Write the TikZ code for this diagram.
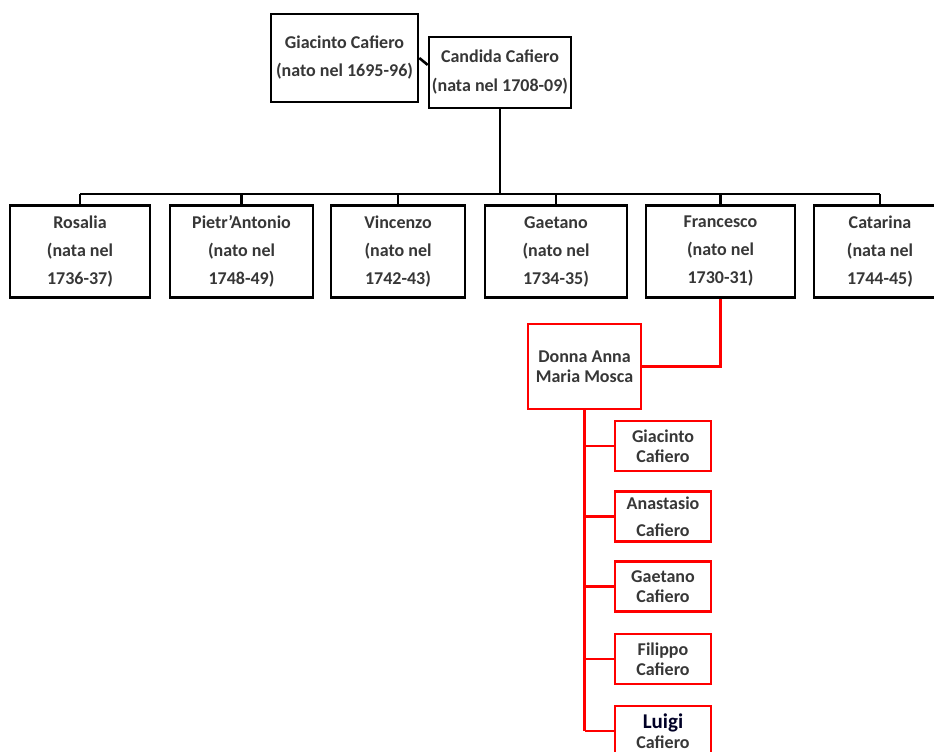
\documentclass[tikz,border=0pt]{standalone}
\usepackage{fontspec}
\setmainfont{Carlito}
\usetikzlibrary{calc}

\definecolor{txt}{RGB}{55,55,55}
\tikzset{
 box/.style={draw=black, line width=2.6pt, fill=white, text=txt, align=center, inner sep=0pt},
 kid/.style={box, minimum height=92, font=\bfseries\fontsize{18}{28}\selectfont},
 redbox/.style={box, draw=red, minimum width=96, minimum height=50, font=\bfseries\fontsize{18}{20}\selectfont},
 link/.style={black, line width=2.6pt},
 redlink/.style={red, line width=2.6pt}
}

\begin{document}
\begin{tikzpicture}[x=1pt, y=-1pt]
\useasboundingbox (0,0) rectangle (934,752);
\clip (0,0) rectangle (934,752);
% parents
\node[box, minimum width=147, minimum height=88, font=\bfseries\fontsize{18}{28}\selectfont] (giacinto) at (344.5,58) {Giacinto Cafiero\\(nato nel 1695-96)};
\node[box, minimum width=142, minimum height=71, font=\bfseries\fontsize{18}{29}\selectfont] (candida) at (500,72.5) {Candida Cafiero\\(nata nel 1708-09)};
\draw[link] (giacinto.east) -- (candida.174);
% children
\coordinate (bus) at (500,194);
\foreach \n/\x/\w/\t in {
 rosalia/80/140/{Rosalia\\(nata nel\\1736-37)},
 pietro/241.5/143/{Pietr’Antonio\\(nato nel\\1748-49)},
 vincenzo/398/134/{Vincenzo\\(nato nel\\1742-43)},
 gaetano/556/142/{Gaetano\\(nato nel\\1734-35)},
 francesco/720.5/149/{Francesco\\(nato nel\\1730-31)},
 catarina/880/132/{Catarina\\(nata nel\\1744-45)}} {
 \node[kid, minimum width=\w] (\n) at (\x,251.5) {\t};
 \draw[link] (\n.north) -- (\n.north |- bus);
}
\draw[link] (rosalia.north |- bus) -- (catarina.north |- bus);
\draw[link] (candida.south) -- (candida.south |- bus);
% Francesco's family
\node[box, draw=red, minimum width=113, minimum height=85, font=\bfseries\fontsize{18}{20}\selectfont] (donna) at (584.5,366.5) {Donna Anna\\Maria Mosca};
\draw[redlink] (francesco.south) |- (donna.east);
\foreach \n/\y/\t in {
 giacintoB/446/{Giacinto\\Cafiero},
 anastasio/516.5/{Anastasio\\[7pt]Cafiero},
 gaetanoB/586.5/{Gaetano\\Cafiero},
 filippo/659/{Filippo\\Cafiero},
 luigi/731/{{\fontsize{21}{21}\selectfont\color{black!85!blue}Luigi}\\Cafiero}} {
 \node[redbox] (\n) at (663,\y) {\t};
 \draw[redlink] (donna.south |- \n.west) -- (\n.west);
}
\draw[redlink] (donna.south) -- (donna.south |- luigi.west);
\end{tikzpicture}
\end{document}
